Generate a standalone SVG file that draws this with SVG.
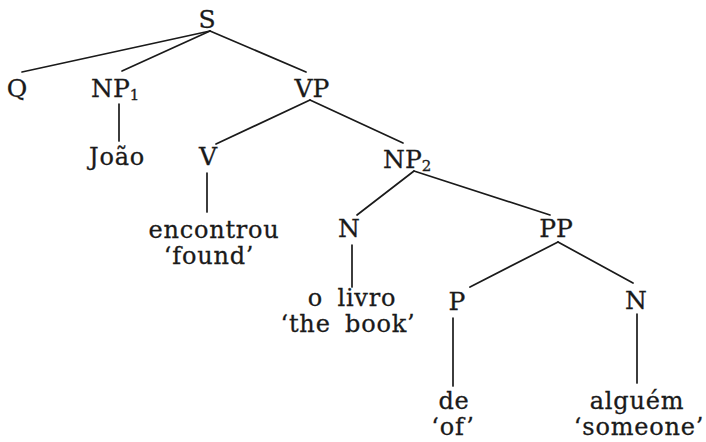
<svg xmlns="http://www.w3.org/2000/svg" width="706" height="442" viewBox="0 0 706 442">
  <style>
    text { font-family: "DejaVu Serif", "Liberation Serif", serif; font-size: 25px; fill: #1a1a1a; stroke: #1a1a1a; stroke-width: 0.3; text-anchor: middle; }
    .sub { font-size: 15px; }
    text.start { text-anchor: start; }
    .word { font-size: 24px; letter-spacing: 0.8px; word-spacing: 6px; }
    #edges line { stroke: #1a1a1a; stroke-width: 1.7; stroke-linecap: round; }
  </style>
  <rect width="706" height="442" fill="#ffffff"/>

  <!-- tree branches -->
  <g id="edges">
    <line x1="210" y1="31" x2="22" y2="72"/>
    <line x1="210" y1="31" x2="122" y2="71"/>
    <line x1="210" y1="31" x2="306" y2="72"/>
    <line x1="119" y1="104" x2="119" y2="141"/>
    <line x1="310" y1="100" x2="216" y2="144"/>
    <line x1="310" y1="100" x2="403" y2="143"/>
    <line x1="207" y1="173" x2="207" y2="212"/>
    <line x1="414" y1="171" x2="357" y2="215"/>
    <line x1="414" y1="171" x2="550" y2="215"/>
    <line x1="352" y1="245" x2="352" y2="287"/>
    <line x1="558" y1="242" x2="470" y2="287"/>
    <line x1="558" y1="242" x2="633" y2="283"/>
    <line x1="453" y1="318" x2="453" y2="386"/>
    <line x1="637" y1="314" x2="637" y2="383"/>
  </g>

  <!-- node labels -->
  <g id="S"><text x="207" y="28">S</text></g>
  <g id="Q"><text x="17" y="97">Q</text></g>
  <g id="NP1"><text class="start" x="91" y="97">NP<tspan class="sub" dy="3">1</tspan></text></g>
  <g id="VP"><text x="312" y="97">VP</text></g>
  <g id="Joao"><text class="word" x="117" y="165">João</text></g>
  <g id="V"><text x="208" y="165">V</text></g>
  <g id="NP2"><text class="start" x="383" y="168">NP<tspan class="sub" dy="3">2</tspan></text></g>
  <g id="encontrou">
    <text class="word" x="214" y="238">encontrou</text>
    <text class="word" x="209" y="264">‘found’</text>
  </g>
  <g id="N1"><text x="349" y="237">N</text></g>
  <g id="PP"><text x="556" y="237">PP</text></g>
  <g id="livro">
    <text class="word" x="352" y="306">o livro</text>
    <text class="word" x="348" y="332">‘the book’</text>
  </g>
  <g id="P"><text x="457" y="310">P</text></g>
  <g id="N2"><text x="636" y="309">N</text></g>
  <g id="de">
    <text class="word" x="454" y="409">de</text>
    <text class="word" x="453" y="435">‘of’</text>
  </g>
  <g id="alguem">
    <text class="word" x="637" y="409">alguém</text>
    <text class="word" x="639" y="435">‘someone’</text>
  </g>
</svg>
